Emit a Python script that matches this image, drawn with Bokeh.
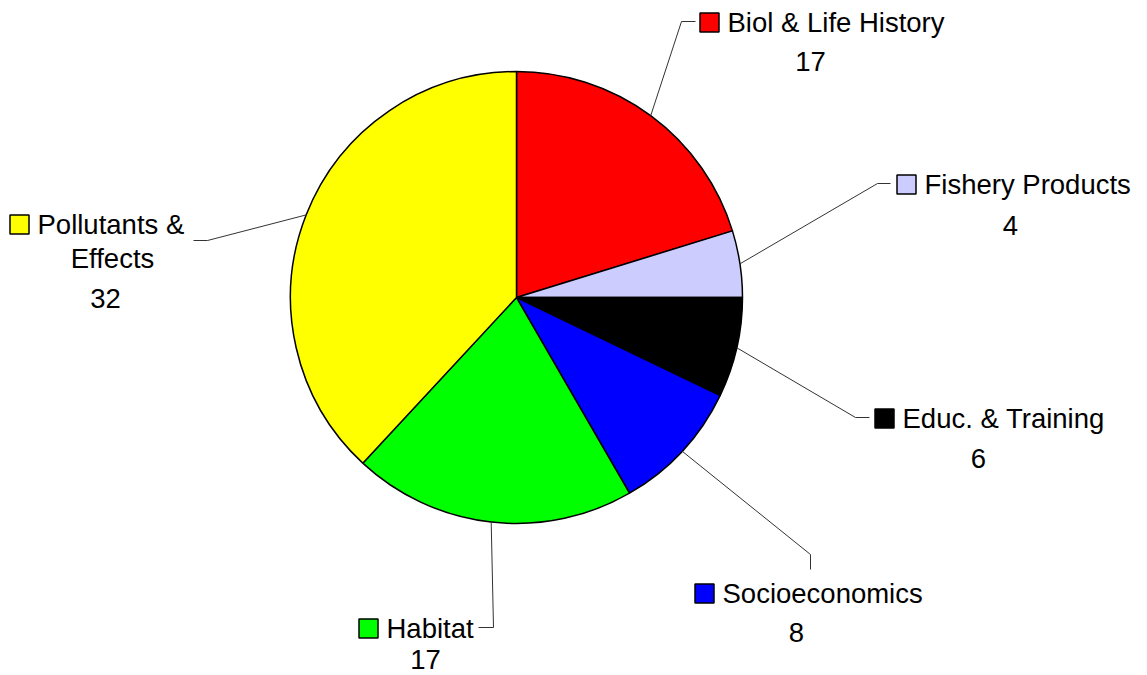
import math
from bokeh.plotting import figure
from bokeh.models import Range1d, ColumnDataSource
from bokeh.core.properties import value
from bokeh.embed import file_html
from bokeh.resources import INLINE

# ---- data ----
labels = ["Biol & Life History", "Fishery Products", "Educ. & Training",
          "Socioeconomics", "Habitat", "Pollutants &\nEffects"]
values = [17, 4, 6, 8, 17, 32]
colors = ["#FF0000", "#CCCCFF", "#000000", "#0000FF", "#00FF00", "#FFFF00"]

# ---- layout (reference pixel coordinates, y downward) ----
W, H = 1147, 675
def Y(py):
    return H - py

CX, CY, R = 516, 297, 226
sq_pos = [(709, 22), (906, 184), (884, 418), (704, 593), (368, 628), (19, 224)]
val_pos = [(810, 61), (1010, 225), (978, 458), (796, 632), (425, 659), (105, 298)]
elbows = [(681, 21), (877, 183), (855, 417), (810, 554), (493, 627), (207, 240)]
ends = [(695, 21), (890, 183), (869, 417), (810, 569), (478, 627), (193, 240)]
extra_line_center = {5: (112, 258)}
FONT = "Liberation Sans"
FS = "27.5px"

p = figure(width=W, height=H, x_range=Range1d(0, W), y_range=Range1d(0, H),
           output_backend="svg", toolbar_location=None,
           x_axis_location=None, y_axis_location=None, min_border=0)
p.grid.visible = False
p.outline_line_color = None
p.background_fill_color = "white"
p.border_fill_color = "white"

total = float(sum(values))
starts, ends_a, mids = [], [], []
cum = 0.0
for v in values:
    a0 = cum / total * 2 * math.pi
    cum += v
    a1 = cum / total * 2 * math.pi
    # clockwise from 12 o'clock
    starts.append(math.pi / 2 - a1)
    ends_a.append(math.pi / 2 - a0)
    mids.append((a0 + a1) / 2)

src = ColumnDataSource(dict(start=starts, end=ends_a, color=colors))
p.wedge(x=CX, y=Y(CY), radius=R, start_angle="start", end_angle="end",
        fill_color="color", line_color="black", line_width=1.5, source=src)

# leader lines
xs, ys = [], []
for m, e1, e2 in zip(mids, elbows, ends):
    sx = CX + R * math.sin(m)
    sy = CY - R * math.cos(m)
    xs.append([sx, e1[0], e2[0]])
    ys.append([Y(sy), Y(e1[1]), Y(e2[1])])
p.multi_line(xs=xs, ys=ys, line_color="#333333", line_width=1)

# legend keys
p.rect(x=[s[0] for s in sq_pos], y=[Y(s[1]) for s in sq_pos], width=19, height=19,
       fill_color=colors, line_color="black", line_width=1.5)

# category names
first_lines = [l.split("\n")[0] for l in labels]
p.text(x=[s[0] + 18 for s in sq_pos], y=[Y(s[1]) for s in sq_pos], text=first_lines,
       text_font=value(FONT), text_font_size=FS, text_align="left",
       text_baseline="middle", text_color="black")
for i, l in enumerate(labels):
    parts = l.split("\n")
    if len(parts) > 1:
        cx, cy = extra_line_center[i]
        p.text(x=[cx], y=[Y(cy)], text=[parts[1]], text_font=value(FONT),
               text_font_size=FS, text_align="center", text_baseline="middle",
               text_color="black")

# values
p.text(x=[v[0] for v in val_pos], y=[Y(v[1]) for v in val_pos],
       text=[str(v) for v in values], text_font=value(FONT), text_font_size=FS,
       text_align="center", text_baseline="middle", text_color="black")

open("out.html", "w").write(file_html(p, INLINE))
